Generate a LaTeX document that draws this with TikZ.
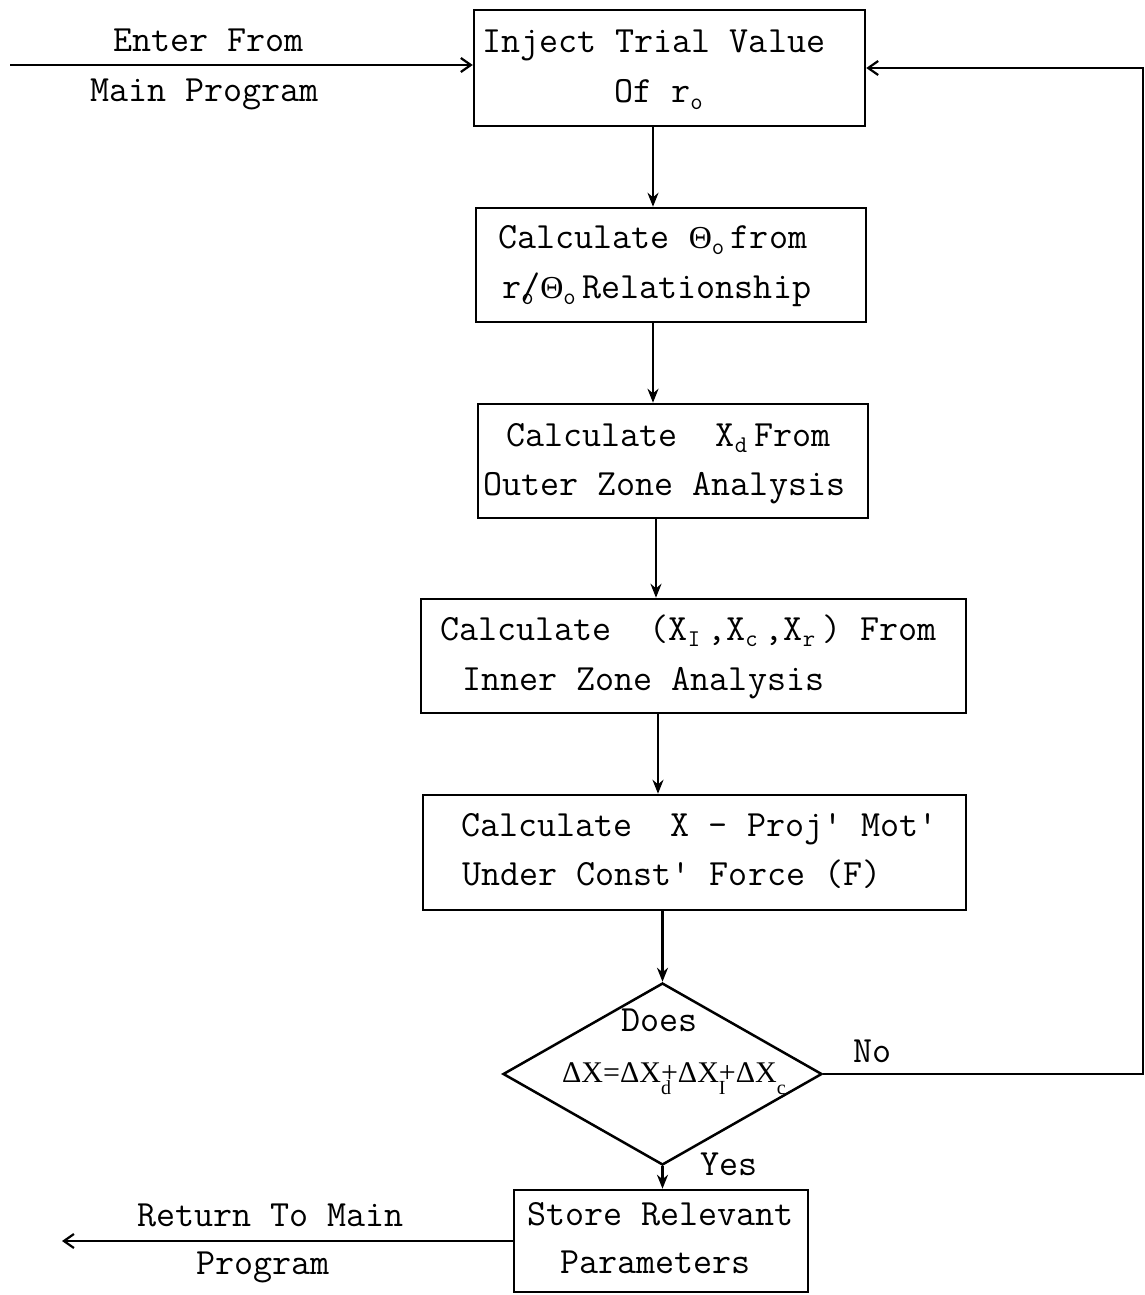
\documentclass[tikz,border=0pt]{standalone}
\usepackage{fontspec}
\usetikzlibrary{shapes.geometric,arrows.meta}
\newfontfamily\grkfont{Liberation Serif}
% small lowered index, one typewriter cell wide, and its zero-width variant
\newcommand\lowidx[1]{\makebox[19.4pt][l]{\raisebox{-0.18em}{\fontsize{24}{24}\selectfont #1}}}
\newcommand\lowidxover[1]{\rlap{\raisebox{-0.18em}{\fontsize{24}{24}\selectfont #1}}}
\newcommand\gk[1]{{\grkfont\fontsize{32}{32}\selectfont #1}}
\newcommand\fidx[1]{\raisebox{-0.42em}{\fontsize{20}{20}\selectfont #1}}
\begin{document}
\begin{tikzpicture}[x=1pt,y=-1pt,
  box/.style={draw, line width=2.5pt, inner sep=0pt},
  txt/.style={anchor=base west, inner sep=0pt, font=\ttfamily\fontsize{37}{44}\selectfont},
  fml/.style={anchor=base west, inner sep=0pt, font=\grkfont\fontsize{30}{36}\selectfont},
  flow/.style={line width=2.2pt, -{Stealth[length=14pt,width=11pt]}},
  barbflow/.style={line width=2.2pt, -{Straight Barb[length=10pt,width=14pt]}}]
\useasboundingbox (0,0) rectangle (1145,1295);
\fill[white] (0,0) rectangle (1145,1295);

% process boxes
\node[box, minimum width=391pt, minimum height=116pt] (b1) at (669.5,68) {};
\node[box, minimum width=390pt, minimum height=114pt] (b2) at (671,265) {};
\node[box, minimum width=390pt, minimum height=114pt] (b3) at (673,461) {};
\node[box, minimum width=545pt, minimum height=114pt] (b4) at (693.5,656) {};
\node[box, minimum width=543pt, minimum height=115pt] (b5) at (694.5,852.5) {};
\node[draw, diamond, line width=2.5pt, inner sep=0pt,
      minimum width=319pt, minimum height=182pt] (dia) at (662.5,1074) {};
\node[box, minimum width=294pt, minimum height=102pt] (b6) at (661,1241) {};

% box texts
\node[txt] (t1a) at (482,53) {Inject Trial Value};
\node[txt] (t1b) at (614,103) {Of r\lowidx{o}};
\node[txt] (t2a) at (498,248) {Calculate \gk{Θ}\lowidxover{o} from};
\node[txt] (t2b) at (502,298) {r\lowidxover{o}/\gk{Θ}\lowidxover{o} Relationship};
\node[txt] (t3a) at (506,446) {Calculate\ \ X\lowidx{d}From};
\node[txt] (t3b) at (483,495) {Outer Zone Analysis};
\node[txt] (t4a) at (440,640) {Calculate\ \ (X\lowidx{I},X\lowidx{c},X\lowidx{r}) From};
\node[txt] (t4b) at (462,690) {Inner Zone Analysis};
\node[txt] (t5a) at (461,836) {Calculate\ \ X - Proj\textquotesingle\ Mot\textquotesingle};
\node[txt] (t5b) at (462,885) {Under Const\textquotesingle\ Force (F)};
\node[txt] (dq) at (621,1031) {Does};
\node[fml] (df) at (562,1082) {ΔX=ΔX\rlap{\fidx{d}}+ΔX\rlap{\fidx{I}}+ΔX\fidx{c}};
\node[txt] (t6a) at (527,1225) {Store Relevant};
\node[txt] (t6b) at (560,1273) {Parameters};

% connector labels
\node[txt] (lin1) at (113,52) {Enter From};
\node[txt] (lin2) at (90,102) {Main Program};
\node[txt] (lout1) at (137,1226) {Return To Main};
\node[txt] (lout2) at (196,1274) {Program};
\node[txt] (lno) at (853,1062) {No};
\node[txt] (lyes) at (700,1175) {Yes};

% columns of the vertical connectors
\coordinate (v1) at (653,0);
\coordinate (v2) at (653,0);
\coordinate (v3) at (656,0);
\coordinate (v4) at (658,0);
\coordinate (src) at (10,65);
\coordinate (dst) at (62,0);
\coordinate (loopR) at (1143,1075);

\draw[flow] (b1.south -| v1) -- (b2.north -| v1);
\draw[flow] (b2.south -| v2) -- (b3.north -| v2);
\draw[flow] (b3.south -| v3) -- (b4.north -| v3);
\draw[flow] (b4.south -| v4) -- (b5.north -| v4);
\draw[flow] (b5.south -| dia.north) -- (dia.north);
\draw[flow] (dia.south) -- (b6.north -| dia.south);

% entry, exit and the "No" loop back to the top
\draw[barbflow] (src) -- (src -| b1.west);
\draw[barbflow] (b6.west) -- (b6.west -| dst);
\draw[barbflow] (dia.east) -- (dia.east -| loopR) -- (loopR |- b1.east) -- (b1.east);
\end{tikzpicture}
\end{document}
